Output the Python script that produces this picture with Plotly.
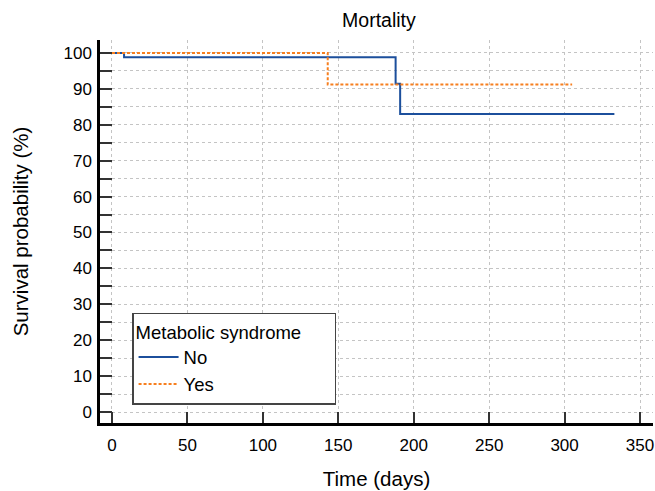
import plotly.graph_objects as go

# Kaplan-Meier step data (time in days, survival in %)
no_time = [0, 8, 188, 191, 333]
no_surv = [100, 98.8, 91.4, 83.0, 83.0]
yes_time = [0, 143, 305]
yes_surv = [100, 91.2, 91.2]

x_ticks = [0, 50, 100, 150, 200, 250, 300, 350]
y_ticks = [0, 10, 20, 30, 40, 50, 60, 70, 80, 90, 100]

FONT = "Liberation Sans, Arial, sans-serif"
NBSP = "\u00a0"

fig = go.Figure()
fig.add_trace(go.Scatter(
    x=no_time, y=no_surv, mode="lines", name="No",
    line=dict(shape="hv", color="#1c4f9c", width=2),
))
fig.add_trace(go.Scatter(
    x=yes_time, y=yes_surv, mode="lines", name="Yes",
    line=dict(shape="hv", color="#f77f1f", width=2, dash="3px,2px"),
))

grid = dict(gridcolor="#c4c4c4", griddash="dot", gridwidth=1)

fig.update_layout(
    width=655, height=491,
    margin=dict(l=100, r=2, t=40, b=68),
    paper_bgcolor="white", plot_bgcolor="white",
    font=dict(family=FONT, size=17, color="black"),
    title=dict(text="Mortality", x=0.5785, xanchor="center", y=0.958, yanchor="middle",
               font=dict(size=19.5)),
    showlegend=True,
    legend=dict(
        # trailing padding widens the legend box
        title=dict(text="Metabolic syndrome" + NBSP * 6, font=dict(size=18.5)),
        x=0.058, y=0.047, xanchor="left", yanchor="bottom",
        bordercolor="#444444", borderwidth=1.5, bgcolor="white",
        font=dict(size=18.5), tracegroupgap=0, itemwidth=40,
    ),
    xaxis=dict(
        range=[-7.95, 358.6], tickvals=x_ticks,
        ticks="inside", ticklen=11, tickwidth=2, tickcolor="#333333",
        showline=True, linecolor="black", linewidth=2.5,
        zeroline=False, showgrid=True, **grid,
        title=dict(text="Time (days)", standoff=18, font=dict(size=20.5)),
        ticklabelstandoff=5,
    ),
    yaxis=dict(
        range=[-3.06, 103.6], tickvals=y_ticks,
        ticks="inside", ticklen=12, tickwidth=2, tickcolor="#333333",
        showline=True, linecolor="black", linewidth=2.5,
        zeroline=False, showgrid=True, **grid,
        minor=dict(dtick=5, tick0=0, ticks="inside", ticklen=12, tickwidth=2,
                   tickcolor="#333333", showgrid=True, gridcolor="#c4c4c4",
                   griddash="dot", gridwidth=1),
        title=dict(text="Survival probability (%)", standoff=30, font=dict(size=20.5)),
        ticklabelstandoff=2,
    ),
)

fig.write_html("out.html")
